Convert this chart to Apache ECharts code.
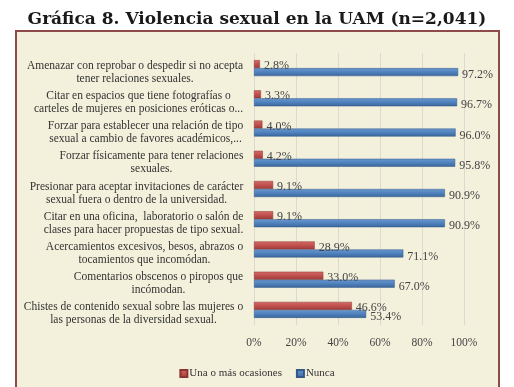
<!DOCTYPE html>
<html><head><meta charset="utf-8">
<script src="https://cdn.jsdelivr.net/npm/echarts@6/dist/echarts.min.js"></script>
<style>html,body{margin:0;padding:0;background:#fff;}#c{width:514px;height:387px;}</style>
</head><body><div id="c"></div>
<script>
const categories = [
  "Amenazar con reprobar o despedir si no acepta\ntener relaciones sexuales.",
  "Citar en espacios que tiene fotografías o\ncarteles de mujeres en posiciones eróticas o...",
  "Forzar para establecer una relación de tipo\nsexual a cambio de favores académicos,...",
  "Forzar físicamente para tener relaciones\nsexuales.",
  "Presionar para aceptar invitaciones de carácter\nsexual fuera o dentro de la universidad.",
  "Citar en una oficina,  laboratorio o salón de\nclases para hacer propuestas de tipo sexual.",
  "Acercamientos excesivos, besos, abrazos o\ntocamientos que incomódan.",
  "Comentarios obscenos o piropos que\nincómodan.",
  "Chistes de contenido sexual sobre las mujeres o\nlas personas de la diversidad sexual."
];
const unaOMas = [2.8, 3.3, 4.0, 4.2, 9.1, 9.1, 28.9, 33.0, 46.6];
const nunca = [97.2, 96.7, 96.0, 95.8, 90.9, 90.9, 71.1, 67.0, 53.4];
const xTicks = [0, 20, 40, 60, 80, 100];

const serif = "Liberation Serif";
const catFontSize = 11.5;
const ctx = document.createElement('canvas').getContext('2d');
ctx.font = catFontSize + 'px "' + serif + '"';
const rich = {};
categories.forEach((c, i) => {
  const w = Math.max(...c.split('\n').map(l => ctx.measureText(l).width));
  rich['c' + i] = { width: Math.ceil(w) + 1, align: 'center', fontFamily: serif, fontSize: catFontSize, color: '#333', lineHeight: 13 };
});

const chart = echarts.init(document.getElementById('c'));
chart.setOption({
  backgroundColor: '#ffffff',
  animation: false,
  title: {
    text: 'Gráfica 8. Violencia sexual en la UAM (n=2,041)',
    left: 'center', top: 6,
    textStyle: { fontFamily: 'DejaVu Serif', fontWeight: 'bold', fontSize: 17, color: '#1a1a1a' }
  },
  graphic: [{
    type: 'rect', z: -10,
    shape: { x: 16, y: 31, width: 483, height: 370 },
    style: { fill: '#F3F0DC', stroke: '#8E4B4B', lineWidth: 2 }
  }],
  legend: {
    bottom: 3, left: 'center',
    itemWidth: 7, itemHeight: 7, itemGap: 14,
    icon: 'rect',
    textStyle: { fontFamily: serif, fontSize: 11, color: '#333', padding: [0, 0, 0, -3] },
    data: ['Una o más ocasiones', 'Nunca']
  },
  grid: { left: 254, width: 210, top: 53, height: 272, containLabel: false },
  xAxis: {
    type: 'value', min: 0, max: 100, interval: 20,
    axisLine: { show: false }, axisTick: { show: false },
    splitLine: { show: true, lineStyle: { color: '#DCDAD0', width: 1 } },
    axisLabel: {
      margin: 12, fontFamily: serif, fontSize: 11.5, color: '#444',
      formatter: v => xTicks.includes(v) ? v + '%' : ''
    }
  },
  yAxis: {
    type: 'category', inverse: true, data: categories,
    axisLine: { show: false }, axisTick: { show: false },
    axisLabel: {
      margin: 10, align: 'right', padding: [8, 0, 0, 0],
      formatter: (v, i) => v.split('\n').map(l => '{c' + i + '|' + l + '}').join('\n'),
      rich: rich
    }
  },
  series: [
    {
      name: 'Una o más ocasiones', type: 'bar', data: unaOMas,
      barWidth: 8, barGap: '0%',
      itemStyle: {
        color: new echarts.graphic.LinearGradient(0, 0, 0, 1, [
          { offset: 0, color: '#D46A66' }, { offset: 0.5, color: '#C0504D' }, { offset: 1, color: '#9E3B38' }
        ]),
        borderColor: '#8C3431', borderWidth: 0.5
      },
      label: {
        show: true, position: 'right', distance: 4, offset: [0, 2],
        formatter: p => p.value.toFixed(1) + '%',
        fontFamily: serif, fontSize: 12, color: '#444'
      }
    },
    {
      name: 'Nunca', type: 'bar', data: nunca,
      barWidth: 8,
      itemStyle: {
        color: new echarts.graphic.LinearGradient(0, 0, 0, 1, [
          { offset: 0, color: '#6A98CF' }, { offset: 0.5, color: '#4F81BD' }, { offset: 1, color: '#3A659A' }
        ]),
        borderColor: '#33588A', borderWidth: 0.5
      },
      label: {
        show: true, position: 'right', distance: 4, offset: [0, 3],
        formatter: p => p.value.toFixed(1) + '%',
        fontFamily: serif, fontSize: 12, color: '#444'
      }
    }
  ]
});
</script></body></html>
